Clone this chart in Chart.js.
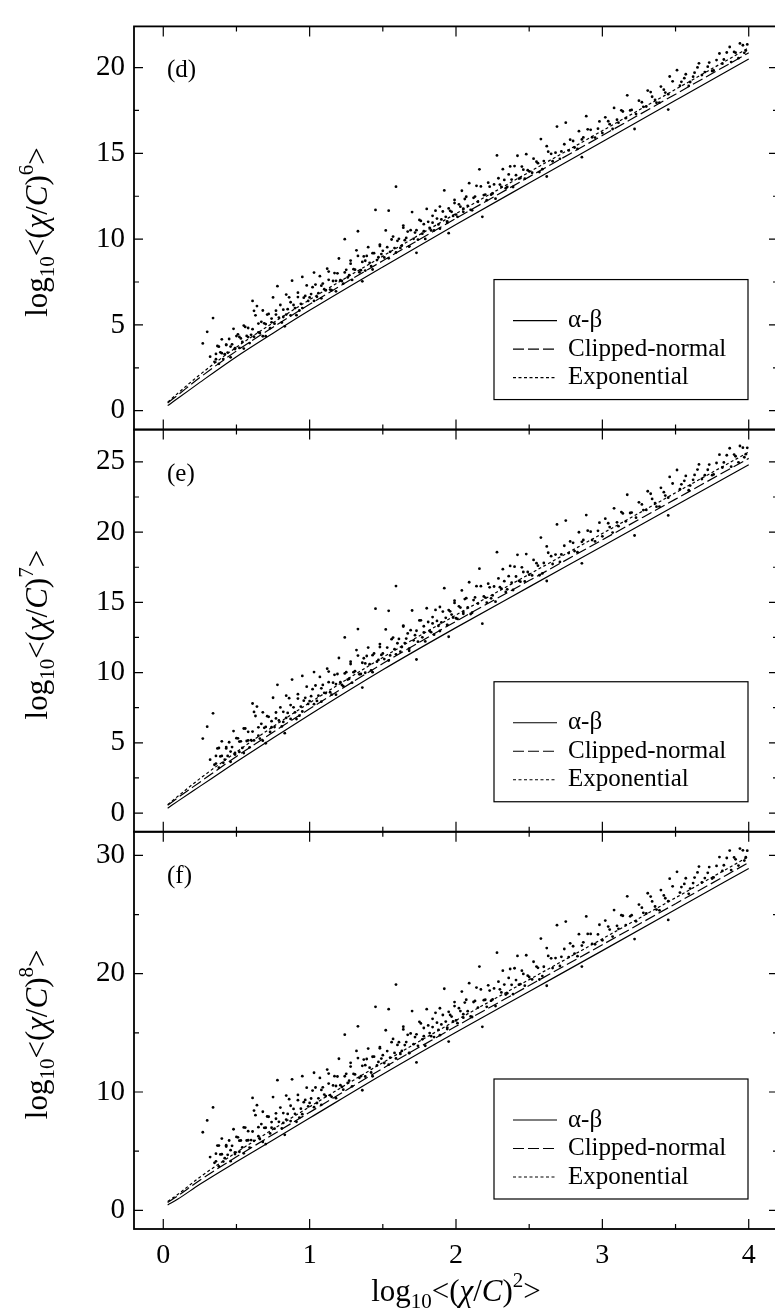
<!DOCTYPE html>
<html>
<head>
<meta charset="utf-8">
<script src="https://cdn.jsdelivr.net/npm/chart.js@4.4.0/dist/chart.umd.min.js"></script>
<style>
html, body { margin: 0; padding: 0; background: #fff; overflow: hidden; }
#wrap { width: 790px; height: 1316px; position: relative; }
canvas { display: block; }
</style>
</head>
<body>
<div id="wrap"><canvas id="momentChart" width="782" height="1316" style="width:782px;height:1316px"></canvas></div>
<script>
// ticks
const xTicks = [0, 1, 2, 3, 4];
const xMinor = [0.5, 1.5, 2.5, 3.5];
const yTicksD = [0, 5, 10, 15, 20];
const yMinorD = [2.5, 7.5, 12.5, 17.5];
const yTicksE = [0, 5, 10, 15, 20, 25];
const yMinorE = [2.5, 7.5, 12.5, 17.5, 22.5];
const yTicksF = [0, 10, 20, 30];
const yMinorF = [5, 15, 25];

const seriesNames = ['α-β', 'Clipped-normal', 'Exponential'];

// model curves, x = log10<(chi/C)^2>
const curveX = [0.03, 0.1, 0.25, 0.5, 0.75, 1, 1.5, 2, 2.5, 3, 3.5, 4];
const alphaBetaD   = [0.3, 0.72, 1.65, 3.15, 4.52, 5.85, 8.38, 10.85, 13.27, 15.68, 18.09, 20.5];
const clippedD     = [0.45, 0.92, 1.93, 3.48, 4.87, 6.2, 8.74, 11.21, 13.63, 16.04, 18.45, 20.86];
const exponentialD = [0.5, 1.02, 2.1, 3.7, 5.12, 6.47, 9.01, 11.49, 13.91, 16.32, 18.73, 21.15];
const alphaBetaE   = [0.35, 0.85, 1.9, 3.65, 5.35, 7.0, 10.2, 13.2, 16.1, 19.0, 21.9, 24.8];
const clippedE     = [0.55, 1.1, 2.2, 4.03, 5.75, 7.42, 10.64, 13.65, 16.55, 19.45, 22.35, 25.25];
const exponentialE = [0.6, 1.2, 2.45, 4.35, 6.15, 7.85, 11.08, 14.1, 17.0, 19.9, 22.8, 25.7];
const alphaBetaF   = [0.45, 0.95, 2.2, 4.1, 5.95, 7.8, 11.5, 15.05, 18.5, 21.95, 25.42, 28.9];
const clippedF     = [0.65, 1.23, 2.55, 4.52, 6.41, 8.28, 12.0, 15.55, 19.0, 22.45, 25.92, 29.4];
const exponentialF = [0.75, 1.35, 2.8, 4.9, 6.85, 8.75, 12.48, 16.05, 19.5, 22.95, 26.42, 29.9];

// measured samples (same x for all three panels)
const sampleX = [
  0.27, 0.30, 0.34, 0.32, 0.36, 0.37, 0.39, 0.40, 0.42, 0.43, 0.45, 0.46, 0.48, 0.49, 0.51, 0.52, 0.54, 0.55, 0.57, 0.58,
  0.61, 0.60, 0.62, 0.64, 0.65, 0.66, 0.68, 0.69, 0.70, 0.72, 0.74, 0.75, 0.77, 0.78, 0.80, 0.82, 0.84, 0.85, 0.87, 0.88,
  0.90, 0.92, 0.93, 0.95, 0.96, 0.98, 1.00, 1.02, 1.03, 1.05, 1.07, 1.08, 1.10, 1.12, 1.13, 1.15, 1.17, 1.18, 1.20, 1.22,
  1.24, 1.25, 1.27, 1.28, 1.30, 1.32, 1.33, 1.35, 1.37, 1.38, 1.40, 1.42, 1.43, 1.45, 1.47, 1.48, 1.50, 1.52, 1.54, 1.55,
  1.57, 1.59, 1.60, 1.62, 1.64, 1.65, 1.67, 1.68, 1.70, 1.72, 1.73, 1.75, 1.77, 1.78, 1.80, 1.82, 1.84, 1.85, 1.87, 1.89,
  1.90, 1.92, 1.94, 1.95, 1.97, 1.99, 2.00, 2.02, 2.04, 2.05, 2.07, 2.09, 2.10, 2.12, 2.14, 2.16, 2.18, 2.20, 2.22, 2.24,
  2.26, 2.28, 2.30, 2.32, 2.34, 2.36, 2.38, 2.40, 2.42, 2.44, 2.46, 2.48, 2.50, 2.53, 2.56, 2.59, 2.62, 2.65, 2.69, 2.72,
  2.75, 2.78, 2.81, 2.84, 2.87, 2.89, 2.92, 2.95, 2.98, 3.02, 3.05, 3.08, 3.11, 3.14, 3.17, 3.20, 3.22, 3.25, 3.28, 3.31,
  3.34, 3.37, 3.40, 3.43, 3.46, 3.51, 3.54, 3.57, 3.60, 3.63, 3.66, 3.70, 3.73, 3.76, 3.80, 3.83, 3.87, 3.90, 3.93, 3.96,
  3.98, 2.86, 1.36, 0.83, 2.58,
  0.35, 0.36, 0.38, 0.38, 0.40, 0.41, 0.43, 0.44, 0.46, 0.47, 0.49, 0.50,
  0.52, 0.53, 0.55, 0.56, 0.58, 0.59, 0.61, 0.62, 0.63, 0.65, 0.67, 0.68, 0.70, 0.71, 0.73, 0.74,
  0.76, 0.77, 0.79, 0.81, 0.82, 0.84, 0.86, 0.87, 0.89, 0.91, 0.92, 0.94, 0.95, 0.97, 0.99,
  1.01, 1.03, 1.04, 1.06, 1.08, 1.09, 1.11, 1.13, 1.14, 1.16, 1.18, 1.19, 1.21, 1.23, 1.24, 1.26, 1.28, 1.29, 1.31, 1.33,
  1.34, 1.36, 1.38, 1.39, 1.41, 1.43, 1.44, 1.46, 1.48, 1.49,
  1.51, 1.53, 1.54, 1.56, 1.58, 1.59, 1.61, 1.63, 1.64, 1.66, 1.68, 1.69, 1.71, 1.73, 1.74, 1.76, 1.78, 1.79, 1.81, 1.83,
  1.84, 1.86, 1.88, 1.89, 1.91, 1.93, 1.94, 1.96, 1.98, 1.99,
  2.01, 2.03, 2.05, 2.06, 2.08, 2.11, 2.13, 2.15, 2.17, 2.19, 2.21, 2.23, 2.25, 2.27, 2.29, 2.31, 2.33, 2.35, 2.37, 2.39,
  2.41, 2.43, 2.45, 2.47, 2.49,
  2.52, 2.55, 2.57, 2.60, 2.63, 2.66, 2.68, 2.71, 2.74, 2.77, 2.80, 2.83, 2.86, 2.90, 2.93, 2.97, 3.00, 3.04, 3.07, 3.10,
  3.13, 3.16, 3.19, 3.23, 3.27, 3.30, 3.33, 3.36, 3.39, 3.42, 3.45, 3.48, 3.53, 3.56, 3.59, 3.62, 3.65, 3.68, 3.72, 3.75,
  3.78, 3.82, 3.85, 3.88, 3.91, 3.94, 3.97, 3.99,
  1.95, 2.62, 3.45
];
const sampleD = [
  3.92, 4.6, 5.4, 3.15, 3.0, 3.77, 3.4, 4.16, 3.29, 3.85, 4.18, 3.74, 4.77, 3.64, 4.45, 4.3, 4.01, 4.96, 4.36, 4.82,
  6.4, 4.42, 5.82, 6.1, 5.08, 4.53, 5.84, 5.09, 4.34, 5.64, 5.15, 6.6, 5.6, 7.26, 6.16, 5.46, 6.77, 5.92, 6.32, 7.58,
  5.98, 6.88, 5.84, 7.8, 6.59, 7.3, 6.6, 7.2, 8.05, 6.64, 7.84, 7.29, 7.08, 8.28, 7.63, 7.02, 8.02, 7.57, 8.87, 7.56,
  10.0, 8.21, 7.9, 8.75, 8.25, 9.35, 10.46, 8.19, 8.99, 8.74, 9.53, 8.43, 9.18, 11.7, 8.95, 9.6, 9.32, 10.51, 11.66, 9.26,
  10.15, 13.06, 9.9, 9.49, 10.79, 9.94, 10.44, 9.58, 11.58, 10.38, 9.2, 11.12, 10.32, 10.87, 11.76, 10.66, 11.36, 10.51, 11.2, 11.9,
  11.15, 12.84, 11.04, 11.79, 11.59, 12.28, 11.43, 12.03, 12.82, 11.77, 12.47, 13.26, 11.71, 12.41, 13.11, 14.07, 11.3, 12.6, 13.29, 12.59,
  13.19, 14.88, 13.18, 14.08, 12.97, 13.77, 13.47, 14.26, 14.86, 13.56, 14.05, 14.95, 13.95, 14.69, 14.43, 14.08, 15.42, 14.97, 16.56, 15.11,
  16.79, 15.8, 15.34, 16.29, 15.93, 17.17, 16.37, 15.92, 16.86, 17.1, 16.7, 17.65, 16.79, 17.44, 18.38, 17.53, 16.42, 18.07, 17.71, 18.66,
  18.3, 17.95, 18.89, 18.54, 19.48, 19.85, 19.17, 19.61, 19.16, 19.7, 20.25, 19.74, 20.29, 19.83, 20.82, 20.47, 21.2, 20.91, 20.55, 21.3,
  20.99, 14.78, 7.54, 4.92, 15.83,
  2.85, 3.31, 2.73, 3.73, 3.35, 3.01, 3.83, 3.39, 3.11, 3.87, 3.59, 4.35,
  3.66, 4.21, 3.62, 4.88, 4.29, 3.94, 4.75, 4.31, 5.56, 4.57, 5.18, 4.34, 5.05, 5.6, 4.81, 5.37,
  5.07, 5.83, 5.43, 5.14, 5.89, 5.6, 6.61, 5.56, 6.16, 5.57, 6.62, 6.23, 5.98, 6.69, 6.4,
  6.8, 6.4, 7.35, 6.85, 6.55, 7.41, 7.01, 8.11, 7.06, 7.56, 6.96, 8.01, 7.61, 7.41, 8.06, 7.77, 8.57, 7.62, 8.22, 9.02,
  8.07, 8.67, 8.17, 9.02, 8.62, 8.23, 9.18, 8.78, 9.68, 9.13,
  8.93, 9.53, 8.88, 9.98, 9.48, 9.22, 10.02, 9.62, 10.67, 10.07, 9.57, 10.52, 10.02, 10.52, 9.97, 11.06, 10.46, 10.01, 11.01, 10.51,
  10.96, 11.66, 10.86, 10.61, 11.61, 11.3, 10.95, 11.65, 11.35, 12.1,
  11.3, 11.89, 11.59, 12.34, 11.94, 11.68, 12.48, 12.18, 13.07, 12.57, 12.27, 13.06, 12.66, 12.36, 13.55, 13.05, 13.45, 13.04, 14.24, 13.04,
  13.73, 13.53, 14.23, 13.52, 14.02,
  13.87, 14.51, 13.91, 14.55, 15.1, 14.54, 15.04, 14.68, 15.53, 15.17, 15.72, 15.26, 15.81, 16.4, 15.94, 16.44, 16.18, 16.87, 16.42, 16.96,
  17.51, 17.05, 17.5, 17.29, 17.98, 17.73, 18.57, 18.12, 17.96, 18.71, 18.45, 19.2, 18.94, 19.38, 18.93, 19.47, 20.01, 19.56, 20.05, 19.8,
  20.44, 20.23, 20.88, 20.32, 20.87, 21.41, 20.86, 21.35,
  10.35, 13.65, 17.55
];
const sampleE = [
  5.3, 6.15, 7.1, 3.8, 3.52, 4.6, 4.03, 5.11, 3.8, 4.6, 5.04, 4.38, 5.84, 4.17, 5.32, 5.09, 4.64, 6.02, 5.13, 5.78,
  7.8, 5.19, 7.2, 7.58, 6.1, 5.3, 7.17, 6.07, 4.97, 6.85, 6.11, 8.21, 6.74, 9.13, 7.52, 6.49, 8.36, 7.13, 7.69, 9.5,
  7.17, 8.46, 6.93, 9.76, 8.0, 9.0, 7.97, 8.82, 10.04, 7.98, 9.69, 8.88, 8.56, 10.28, 9.32, 8.43, 9.84, 9.18, 11.04, 9.13,
  12.5, 10.03, 9.56, 10.78, 10.03, 11.6, 13.1, 9.9, 11.02, 10.65, 11.78, 10.16, 11.24, 14.55, 10.9, 11.82, 11.36, 13.07, 14.4, 11.22,
  12.49, 16.16, 12.09, 11.49, 13.35, 12.1, 12.79, 11.55, 14.42, 12.66, 10.93, 13.71, 12.51, 13.3, 14.58, 12.96, 13.95, 12.7, 13.68, 14.67,
  13.57, 16.01, 13.38, 14.45, 14.13, 15.12, 13.87, 14.72, 15.85, 14.32, 15.3, 16.43, 14.17, 15.16, 16.15, 17.4, 13.48, 15.34, 16.33, 15.29,
  16.13, 18.57, 16.08, 17.36, 15.74, 16.86, 16.4, 17.54, 18.38, 16.47, 17.16, 18.44, 16.97, 18.02, 17.61, 17.06, 18.98, 18.29, 20.55, 18.41,
  20.82, 19.34, 18.65, 19.99, 19.44, 21.21, 20.03, 19.34, 20.67, 20.96, 20.36, 21.69, 20.42, 21.33, 22.66, 21.39, 19.76, 22.12, 21.57, 22.91,
  22.36, 21.81, 23.15, 22.6, 23.93, 24.42, 23.4, 24.0, 23.31, 24.07, 24.82, 24.05, 24.81, 24.11, 25.51, 24.96, 25.97, 25.52, 24.97, 26.01,
  25.55, 17.78, 8.93, 5.69, 19.61,
  3.44, 4.07, 3.23, 4.63, 4.07, 3.58, 4.7, 4.07, 3.65, 4.7, 4.28, 5.33,
  4.35, 5.11, 4.27, 6.02, 5.17, 4.68, 5.8, 5.17, 6.91, 5.51, 6.35, 5.15, 6.13, 6.9, 5.77, 6.54,
  6.12, 7.16, 6.59, 6.17, 7.21, 6.78, 8.18, 6.7, 7.53, 6.69, 8.15, 7.58, 7.23, 8.2, 7.77,
  8.32, 7.75, 9.08, 8.36, 7.93, 9.12, 8.54, 10.07, 8.6, 9.28, 8.43, 9.9, 9.32, 9.03, 9.94, 9.5, 10.61, 9.28, 10.1, 11.21,
  9.88, 10.7, 9.99, 11.18, 10.6, 10.03, 11.36, 10.78, 12.03, 11.26,
  10.96, 11.78, 10.86, 12.38, 11.66, 11.3, 12.4, 11.82, 13.28, 12.42, 11.7, 13.02, 12.3, 12.98, 12.2, 13.72, 12.86, 12.22, 13.6, 12.88,
  13.5, 14.46, 13.32, 12.96, 14.34, 13.9, 13.4, 14.36, 13.92, 14.96,
  13.82, 14.63, 14.19, 15.23, 14.64, 14.26, 15.35, 14.91, 16.15, 15.42, 14.98, 16.07, 15.49, 15.05, 16.7, 15.98, 16.51, 15.93, 17.59, 15.88,
  16.84, 16.53, 17.49, 16.49, 17.16,
  16.92, 17.79, 16.93, 17.8, 18.53, 17.73, 18.4, 17.88, 19.03, 18.51, 19.24, 18.57, 19.31, 20.1, 19.43, 20.09, 19.7, 20.63, 19.97, 20.7,
  21.43, 20.77, 21.36, 21.03, 21.97, 21.58, 22.73, 22.07, 21.82, 22.84, 22.45, 23.46, 23.05, 23.65, 22.98, 23.72, 24.45, 23.78, 24.44, 24.05,
  24.92, 24.6, 25.47, 24.66, 25.4, 26.13, 25.33, 26.0,
  12.55, 16.52, 21.19
];
const sampleF = [
  6.6, 7.6, 8.7, 4.5, 4.14, 5.47, 4.72, 6.06, 4.41, 5.39, 5.9, 5.08, 6.85, 4.76, 6.17, 5.89, 5.32, 7.01, 5.9, 6.69,
  9.5, 5.94, 8.43, 8.89, 7.03, 6.02, 8.33, 6.97, 5.6, 7.91, 6.98, 9.57, 7.74, 11.0, 8.68, 7.39, 9.7, 8.15, 8.84, 11.07,
  8.16, 9.75, 7.84, 11.34, 9.14, 10.37, 9.08, 10.12, 11.63, 9.07, 11.19, 10.18, 9.78, 11.9, 10.71, 9.59, 11.34, 10.51, 12.81, 10.43,
  14.85, 11.54, 10.96, 12.47, 11.53, 13.47, 15.55, 11.34, 12.74, 12.27, 13.67, 11.65, 12.98, 17.2, 12.54, 13.69, 13.11, 15.22, 17.0, 12.91,
  14.49, 19.08, 13.98, 13.22, 15.52, 13.97, 14.83, 13.28, 16.84, 14.64, 12.5, 15.93, 14.45, 15.41, 17.0, 14.98, 16.19, 14.64, 15.86, 17.08,
  15.71, 18.73, 15.45, 16.78, 16.38, 17.6, 16.05, 17.09, 18.49, 16.58, 17.8, 19.2, 16.39, 17.61, 18.83, 20.6, 15.51, 17.8, 19.02, 17.72,
  18.76, 21.78, 18.68, 20.26, 18.24, 19.64, 19.06, 20.46, 21.5, 19.12, 19.98, 21.56, 19.72, 21.01, 20.5, 19.8, 22.17, 21.3, 24.1, 21.43,
  24.41, 22.57, 21.7, 23.34, 22.65, 24.84, 23.36, 22.49, 24.14, 24.49, 23.73, 25.38, 23.79, 24.9, 26.54, 24.95, 22.93, 25.84, 25.15, 26.8,
  26.11, 25.42, 27.07, 26.38, 28.03, 28.61, 27.32, 28.07, 27.2, 28.13, 29.06, 28.08, 29.01, 28.14, 29.86, 29.17, 30.41, 29.83, 29.14, 30.43,
  29.85, 20.6, 10.15, 6.38, 22.97,
  4.01, 4.79, 3.72, 5.47, 4.74, 4.12, 5.5, 4.69, 4.15, 5.45, 4.9, 6.2,
  4.95, 5.9, 4.82, 6.99, 5.92, 5.3, 6.66, 5.87, 8.04, 6.26, 7.29, 5.78, 6.98, 7.93, 6.5, 7.46,
  6.9, 8.2, 7.48, 6.92, 8.22, 7.67, 9.39, 7.54, 8.57, 7.48, 9.31, 8.59, 8.13, 9.33, 8.78,
  9.45, 8.72, 10.38, 9.47, 8.92, 10.4, 9.66, 11.56, 9.72, 10.56, 9.48, 11.31, 10.58, 10.2, 11.33, 10.77, 12.15, 10.48, 11.49, 12.87,
  11.2, 12.21, 11.31, 12.79, 12.06, 11.33, 12.99, 12.25, 13.8, 12.83,
  12.45, 13.46, 12.31, 14.21, 13.3, 12.84, 14.21, 13.47, 15.29, 14.22, 13.31, 14.95, 14.04, 14.88, 13.9, 15.8, 14.72, 13.91, 15.63, 14.72,
  15.49, 16.69, 15.25, 14.8, 16.51, 15.95, 15.32, 16.52, 15.96, 17.26,
  15.82, 16.84, 16.28, 17.56, 16.83, 16.34, 17.7, 17.14, 18.67, 17.76, 17.2, 18.57, 17.83, 17.26, 19.33, 18.42, 19.08, 18.35, 20.4, 18.27,
  19.46, 19.07, 20.26, 18.99, 19.83,
  19.52, 20.6, 19.51, 20.59, 21.5, 20.48, 21.32, 20.65, 22.09, 21.41, 22.32, 21.48, 22.38, 23.36, 22.52, 23.32, 22.83, 23.98, 23.14, 24.05,
  24.95, 24.11, 24.85, 24.43, 25.58, 25.09, 26.52, 25.68, 25.36, 26.62, 26.13, 27.39, 26.86, 27.59, 26.75, 27.66, 28.56, 27.72, 28.53, 28.04,
  29.11, 28.69, 29.78, 28.76, 29.67, 30.58, 29.56, 30.4,
  14.26, 18.98, 24.55
];

const serif = "'Liberation Serif', 'Times New Roman', serif";
const lineDashes = [[], [11, 4], [3, 2.5]];

const panels = [
  { id: 'yD', label: '(d)', power: '6', min: -1.1, max: 22.4, major: yTicksD, minor: yMinorD, weight: 3, stackWeight: 409,
    curves: [alphaBetaD, clippedD, exponentialD], samples: sampleD },
  { id: 'yE', label: '(e)', power: '7', min: -1.33, max: 27.3, major: yTicksE, minor: yMinorE, weight: 2, stackWeight: 408,
    curves: [alphaBetaE, clippedE, exponentialE], samples: sampleE },
  { id: 'yF', label: '(f)', power: '8', min: -1.58, max: 32.0, major: yTicksF, minor: yMinorF, weight: 1, stackWeight: 403,
    curves: [alphaBetaF, clippedF, exponentialF], samples: sampleF }
];

const datasets = [];
panels.forEach(p => {
  datasets.push({
    label: 'data ' + p.label,
    yAxisID: p.id,
    data: sampleX.map((x, i) => ({ x: x, y: p.samples[i] })),
    showLine: false,
    pointRadius: 1.4,
    pointBackgroundColor: '#000',
    pointBorderWidth: 0
  });
  p.curves.forEach((ys, k) => {
    datasets.push({
      label: seriesNames[k] + ' ' + p.label,
      yAxisID: p.id,
      data: curveX.map((x, i) => ({ x: x, y: ys[i] })),
      showLine: true,
      pointRadius: 0,
      borderColor: '#000',
      borderWidth: 1.2,
      borderDash: lineDashes[k],
      cubicInterpolationMode: 'monotone',
      fill: false
    });
  });
});

const scales = {
  x: {
    type: 'linear',
    position: 'bottom',
    min: -0.2,
    max: 4.2,
    afterBuildTicks: s => { s.ticks = xTicks.map(v => ({ value: v })); },
    afterFit: s => { s.height = 87; },
    grid: { display: false, drawTicks: false },
    border: { display: false },
    ticks: { color: '#000', padding: 10, maxRotation: 0, autoSkip: false, font: { family: serif, size: 28 } }
  }
};
panels.forEach(p => {
  scales[p.id] = {
    type: 'linear',
    position: 'left',
    stack: 'panels',
    stackWeight: p.stackWeight,
    weight: p.weight,
    min: p.min,
    max: p.max,
    afterBuildTicks: s => { s.ticks = p.major.map(v => ({ value: v })); },
    afterFit: s => { s.width = 134; },
    grid: { display: false, drawTicks: false },
    border: { display: false },
    ticks: { color: '#000', padding: 9, autoSkip: false, font: { family: serif, size: 29 } }
  };
});

function drawLogTitle(ctx, cx, cy, power, rotated) {
  const big = 31, small = 21;
  const parts = [
    { t: 'log', size: big, dy: 0 },
    { t: '10', size: small, dy: 7 },
    { t: '<(', size: big, dy: 0 },
    { t: 'χ', size: big, dy: 0, italic: true },
    { t: '/', size: big, dy: 0 },
    { t: 'C', size: big, dy: 0, italic: true },
    { t: ')', size: big, dy: 0 },
    { t: power, size: small, dy: -14 },
    { t: '>', size: big, dy: 0 }
  ];
  ctx.save();
  ctx.translate(cx, cy);
  if (rotated) ctx.rotate(-Math.PI / 2);
  ctx.fillStyle = '#000';
  ctx.textBaseline = 'alphabetic';
  ctx.textAlign = 'left';
  let total = 0;
  parts.forEach(p => {
    ctx.font = (p.italic ? 'italic ' : '') + p.size + 'px ' + serif;
    p.w = ctx.measureText(p.t).width;
    total += p.w;
  });
  let x = -total / 2;
  parts.forEach(p => {
    ctx.font = (p.italic ? 'italic ' : '') + p.size + 'px ' + serif;
    ctx.fillText(p.t, x, p.dy);
    x += p.w;
  });
  ctx.restore();
}

function drawLegend(ctx, area, bottom) {
  const w = 254, h = 120;
  const left = area.left + 360;
  const top = bottom - 30 - h;
  ctx.save();
  ctx.fillStyle = '#fff';
  ctx.fillRect(left, top, w, h);
  ctx.strokeStyle = '#000';
  ctx.fillStyle = '#000';
  ctx.lineWidth = 1.2;
  ctx.strokeRect(left, top, w, h);
  seriesNames.forEach((name, k) => {
    const y = top + 41 + k * 28.5;
    ctx.setLineDash(lineDashes[k]);
    ctx.beginPath();
    ctx.moveTo(left + 19, y);
    ctx.lineTo(left + 63, y);
    ctx.stroke();
    ctx.setLineDash([]);
    ctx.font = '25px ' + serif;
    ctx.textBaseline = 'middle';
    ctx.textAlign = 'left';
    ctx.fillText(name, left + 74, y);
  });
  ctx.restore();
}

// frames, inward ticks, panel letters, legends, axis titles
const panelDecor = {
  id: 'panelDecor',
  afterDraw(chart) {
    const ctx = chart.ctx;
    const area = chart.chartArea;
    const xs = chart.scales.x;
    ctx.save();
    ctx.strokeStyle = '#000';
    panels.forEach(p => {
      const ys = chart.scales[p.id];
      const top = ys.top, bottom = ys.bottom;
      ctx.lineWidth = 1.2;
      ctx.beginPath();
      const xTick = (vals, len) => vals.forEach(v => {
        const px = xs.getPixelForValue(v);
        ctx.moveTo(px, top); ctx.lineTo(px, top + len);
        ctx.moveTo(px, bottom); ctx.lineTo(px, bottom - len);
      });
      const yTick = (vals, len) => vals.forEach(v => {
        const py = ys.getPixelForValue(v);
        ctx.moveTo(area.left, py); ctx.lineTo(area.left + len, py);
        ctx.moveTo(area.right, py); ctx.lineTo(area.right - len, py);
      });
      xTick(xTicks, 10);
      xTick(xMinor, 5);
      yTick(p.major, 9);
      yTick(p.minor, 5);
      ctx.stroke();
      ctx.lineWidth = 1.8;
      ctx.strokeRect(area.left, top, area.right - area.left, bottom - top);

      ctx.fillStyle = '#000';
      ctx.font = '25px ' + serif;
      ctx.textBaseline = 'alphabetic';
      ctx.textAlign = 'left';
      ctx.fillText(p.label, area.left + 33, top + 51);

      drawLegend(ctx, area, bottom);
      drawLogTitle(ctx, 47, (top + bottom) / 2 + 4, p.power, true);
    });
    drawLogTitle(ctx, (area.left + area.right) / 2, 1301, '2', false);
    ctx.restore();
  }
};

new Chart(document.getElementById('momentChart').getContext('2d'), {
  type: 'scatter',
  data: { datasets: datasets },
  options: {
    responsive: false,
    animation: false,
    devicePixelRatio: 1,
    // canvas is a bit wider than the window so the right frame edge falls outside the picture
    layout: { padding: { left: 0, top: 9, right: 1, bottom: 0 } },
    plugins: {
      legend: { display: false },
      tooltip: { enabled: false }
    },
    scales: scales
  },
  plugins: [panelDecor]
});
</script>
</body>
</html>
